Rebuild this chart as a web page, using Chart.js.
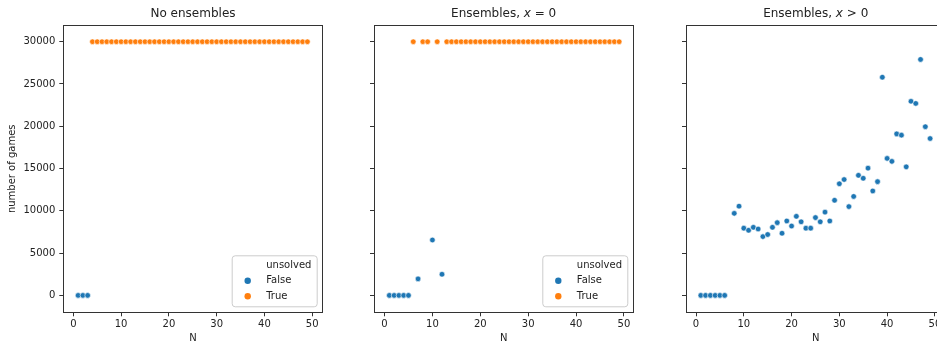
<!DOCTYPE html>
<html>
<head>
<meta charset="utf-8">
<script src="https://cdn.jsdelivr.net/npm/chart.js@4.4.0/dist/chart.umd.min.js"></script>
<style>
  html, body { margin: 0; padding: 0; background: #fff; overflow: hidden; }
  #wrap { position: relative; width: 937px; height: 343px; overflow: hidden; }
  canvas { position: absolute; top: 0; }
</style>
</head>
<body>
<div id="wrap">
  <canvas id="c1" width="330" height="343" style="left:0px"></canvas>
  <canvas id="c2" width="310" height="343" style="left:330px"></canvas>
  <canvas id="c3" width="320" height="343" style="left:640px"></canvas>
</div>
<script>
// tick labels
const xTicks = [0, 10, 20, 30, 40, 50];
const yTicks = [0, 5000, 10000, 15000, 20000, 25000, 30000];
const legendTitle = 'unsolved';
const seriesNames = ['False', 'True'];

// panel 1: no ensembles
const p1FalseN = [1, 2, 3];
const p1FalseGames = [0, 0, 0];
const p1TrueN = [4, 5, 6, 7, 8, 9, 10, 11, 12, 13, 14, 15, 16, 17, 18, 19, 20, 21, 22, 23, 24, 25, 26,
  27, 28, 29, 30, 31, 32, 33, 34, 35, 36, 37, 38, 39, 40, 41, 42, 43, 44, 45, 46, 47, 48, 49];
const p1TrueGames = [30000, 30000, 30000, 30000, 30000, 30000, 30000, 30000, 30000, 30000, 30000, 30000,
  30000, 30000, 30000, 30000, 30000, 30000, 30000, 30000, 30000, 30000, 30000, 30000, 30000, 30000, 30000,
  30000, 30000, 30000, 30000, 30000, 30000, 30000, 30000, 30000, 30000, 30000, 30000, 30000, 30000, 30000,
  30000, 30000, 30000, 30000];

// panel 2: ensembles, x = 0
const p2FalseN = [1, 2, 3, 4, 5, 7, 10, 12];
const p2FalseGames = [0, 0, 0, 0, 0, 1950, 6550, 2500];
const p2TrueN = [6, 8, 9, 11, 13, 14, 15, 16, 17, 18, 19, 20, 21, 22, 23, 24, 25, 26, 27, 28, 29, 30, 31,
  32, 33, 34, 35, 36, 37, 38, 39, 40, 41, 42, 43, 44, 45, 46, 47, 48, 49];
const p2TrueGames = [30000, 30000, 30000, 30000, 30000, 30000, 30000, 30000, 30000, 30000, 30000, 30000,
  30000, 30000, 30000, 30000, 30000, 30000, 30000, 30000, 30000, 30000, 30000, 30000, 30000, 30000, 30000,
  30000, 30000, 30000, 30000, 30000, 30000, 30000, 30000, 30000, 30000, 30000, 30000, 30000, 30000];

// panel 3: ensembles, x > 0
const p3FalseN = [1, 2, 3, 4, 5, 6, 8, 9, 10, 11, 12, 13, 14, 15, 16, 17, 18, 19, 20, 21, 22, 23, 24, 25,
  26, 27, 28, 29, 30, 31, 32, 33, 34, 35, 36, 37, 38, 39, 40, 41, 42, 43, 44, 45, 46, 47, 48, 49];
const p3FalseGames = [0, 0, 0, 0, 0, 0, 9700, 10550, 7950, 7700, 8050, 7850, 6950, 7200, 8050, 8600,
  7350, 8800, 8200, 9350, 8700, 7950, 7950, 9200, 8700, 9850, 8800, 11250, 13200, 13700, 10500, 11700,
  14200, 13850, 15050, 12350, 13450, 25800, 16200, 15850, 19100, 18950, 15200, 22950, 22700, 27900,
  19950, 18550];

const BLUE = '#1f77b4';
const ORANGE = '#ff7f0e';
const FONT = 'DejaVu Sans';

function pts(xs, ys) {
  return xs.map((x, i) => ({ x: x, y: ys[i] }));
}

// frame + legend + title drawn after the chart
const panelDecor = {
  id: 'panelDecor',
  afterDraw(chart, args, opts) {
    const ctx = chart.ctx;
    const a = chart.chartArea;
    ctx.save();
    ctx.strokeStyle = '#333';
    ctx.lineWidth = 1;
    ctx.strokeRect(Math.round(a.left) + 0.5, Math.round(a.top) + 0.5,
      Math.round(a.right - a.left), Math.round(a.bottom - a.top));

    // title with optional italic part
    ctx.fillStyle = '#222';
    ctx.textBaseline = 'middle';
    const parts = opts.title || [];
    let total = 0;
    parts.forEach(p => {
      ctx.font = (p.italic ? 'italic ' : '') + '12px "' + FONT + '"';
      total += ctx.measureText(p.text).width;
    });
    let tx = (a.left + a.right) / 2 - total / 2;
    parts.forEach(p => {
      ctx.font = (p.italic ? 'italic ' : '') + '12px "' + FONT + '"';
      ctx.textAlign = 'left';
      ctx.fillText(p.text, tx, 14);
      tx += ctx.measureText(p.text).width;
    });

    if (opts.legend) {
      const w = 85, h = 51;
      const x0 = a.right - 5.5 - w, y0 = a.bottom - 5.5 - h;
      ctx.beginPath();
      ctx.roundRect(x0, y0, w, h, 3);
      ctx.fillStyle = 'rgba(255,255,255,0.8)';
      ctx.fill();
      ctx.strokeStyle = '#cccccc';
      ctx.lineWidth = 1;
      ctx.stroke();
      ctx.font = '10px "' + FONT + '"';
      ctx.textAlign = 'left';
      ctx.fillStyle = '#222';
      ctx.fillText(legendTitle, x0 + 34, y0 + 9.5);
      const cols = [BLUE, ORANGE];
      seriesNames.forEach((name, i) => {
        const cy = y0 + 25 + i * 15.5;
        ctx.beginPath();
        ctx.arc(x0 + 15.5, cy, 3.2, 0, Math.PI * 2);
        ctx.fillStyle = cols[i];
        ctx.fill();
        ctx.fillStyle = '#222';
        ctx.fillText(name, x0 + 34, cy);
      });
    }
    ctx.restore();
  }
};

function makePanel(id, datasets, cfg) {
  return new Chart(document.getElementById(id), {
    type: 'scatter',
    data: { datasets: datasets },
    plugins: [panelDecor],
    options: {
      responsive: false,
      animation: false,
      layout: { padding: { top: 25.3, right: cfg.padRight, bottom: 0, left: 0 } },
      plugins: {
        legend: { display: false },
        tooltip: { enabled: false },
        panelDecor: { title: cfg.title, legend: cfg.legend }
      },
      elements: { point: { radius: 2.8, borderWidth: 0.6, borderColor: '#fff' } },
      scales: {
        x: {
          type: 'linear',
          min: cfg.xMin, max: cfg.xMax,
          afterBuildTicks: s => { s.ticks = xTicks.map(v => ({ value: v })); },
          afterFit: s => { s.height = 30.7; },
          grid: { display: true, drawOnChartArea: false, drawTicks: true, tickLength: 4, tickColor: '#333' },
          border: { display: false },
          ticks: { color: '#222', font: { family: FONT, size: 10 }, padding: 2, maxRotation: 0,
            callback: v => String(v) },
          title: { display: true, text: 'N', color: '#222', font: { family: FONT, size: 10, lineHeight: 1 },
            padding: 0 }
        },
        y: {
          type: 'linear',
          min: -2000, max: 31940,
          afterBuildTicks: s => { s.ticks = yTicks.map(v => ({ value: v })); },
          afterFit: s => { s.width = cfg.yWidth; },
          grid: { display: true, drawOnChartArea: false, drawTicks: true, tickLength: 4, tickColor: '#333' },
          border: { display: false },
          ticks: { color: '#222', font: { family: FONT, size: 10 }, padding: 4,
            callback: v => cfg.yLabels ? String(v) : '' },
          title: { display: cfg.yLabels, text: 'number of games', color: '#222',
            font: { family: FONT, size: 10, lineHeight: 1.2 }, padding: { top: 6.5, bottom: 0 } }
        }
      }
    }
  });
}

makePanel('c1', [
  { label: seriesNames[0], data: pts(p1FalseN, p1FalseGames), backgroundColor: BLUE },
  { label: seriesNames[1], data: pts(p1TrueN, p1TrueGames), backgroundColor: ORANGE }
], { padRight: 7.3, yWidth: 63.3, yLabels: true, legend: true, xMin: -2.1, xMax: 52.2,
     title: [{ text: 'No ensembles' }] });

makePanel('c2', [
  { label: seriesNames[0], data: pts(p2FalseN, p2FalseGames), backgroundColor: BLUE },
  { label: seriesNames[1], data: pts(p2TrueN, p2TrueGames), backgroundColor: ORANGE }
], { padRight: 6.7, yWidth: 44, yLabels: false, legend: true, xMin: -2.2, xMax: 51.95,
     title: [{ text: 'Ensembles, ' }, { text: 'x', italic: true }, { text: ' = 0' }] });

makePanel('c3', [
  { label: seriesNames[0], data: pts(p3FalseN, p3FalseGames), backgroundColor: BLUE }
], { padRight: 14.6, yWidth: 46, yLabels: false, legend: false, xMin: -2.1, xMax: 52.2,
     title: [{ text: 'Ensembles, ' }, { text: 'x', italic: true }, { text: ' > 0' }] });
</script>
</body>
</html>
